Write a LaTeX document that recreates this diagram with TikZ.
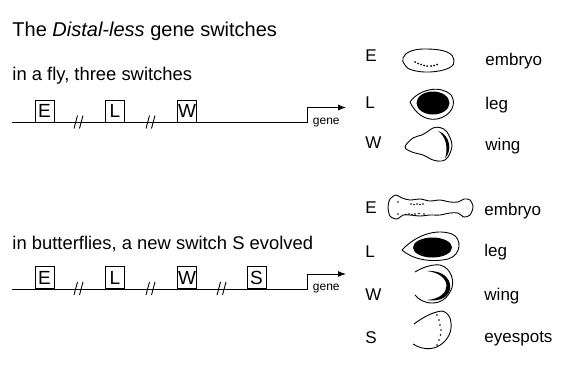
\documentclass[tikz,border=0pt]{standalone}
\usepackage{fontspec}
\setmainfont{Liberation Sans}
\usetikzlibrary{arrows.meta}

\tikzset{
  txt/.style={anchor=base west, inner sep=0pt},
  switchbox/.style={draw, fill=white, anchor=south, minimum width=19pt,
    minimum height=22pt, inner sep=0pt, font=\fontsize{19}{19}\selectfont},
  tissue/.style={anchor=base west, inner sep=0pt, font=\fontsize{17}{20}\selectfont},
  genetag/.style={anchor=base west, inner sep=0pt, font=\fontsize{12}{12}\selectfont},
}

\begin{document}
\begin{tikzpicture}[x=1pt, y=-1pt, line width=0.9pt]
    \useasboundingbox (0,0) rectangle (570,365);

    % Headings
    \node[txt, font=\fontsize{20}{24}\selectfont] (title) at (12,36.7)
      {The \textit{Distal-less} gene switches};
    \node[txt, font=\fontsize{18.4}{22}\selectfont] (fly) at (12,80.5)
      {in a fly, three switches};
    \node[txt, font=\fontsize{18.4}{22}\selectfont] (bfly) at (12,249)
      {in butterflies, a new switch S evolved};

    % Fly: DNA line with promoter arrow
    \coordinate (start1) at (12,122.5);
    \coordinate (tss1) at (307,122.5);
    \coordinate (tip1) at (346,107.5);
    \draw[-{Latex[length=8pt,width=6pt]}] (start1) -- (tss1) |- (tip1);
    \node[genetag] (gene1) at (312.5,124) {gene};

    % Fly: breaks in the line
    \foreach \x in {78.5,150.5} {
      \draw (\x-4.5,128.5) -- (\x-1,115.5);
      \draw (\x+1,128.5) -- (\x+4.5,115.5);
    }

    % Fly: switches
    \node[switchbox] (E1) at (44.5,122.5) {E};
    \node[switchbox] (L1) at (115,122.5) {L};
    \node[switchbox] (W1) at (187,122.5) {W};

    % Butterfly: DNA line with promoter arrow
    \coordinate (start2) at (12,289);
    \coordinate (tss2) at (307,289);
    \coordinate (tip2) at (346,274);
    \draw[-{Latex[length=8pt,width=6pt]}] (start2) -- (tss2) |- (tip2);
    \node[genetag] (gene2) at (312.5,290.5) {gene};

    % Butterfly: breaks in the line
    \foreach \x in {78.5,150.5,221.5} {
      \draw (\x-4.5,295) -- (\x-1,282);
      \draw (\x+1,295) -- (\x+4.5,282);
    }

    % Butterfly: switches
    \node[switchbox] (E2) at (44.5,289) {E};
    \node[switchbox] (L2) at (115,289) {L};
    \node[switchbox] (W2) at (187,289) {W};
    \node[switchbox] (S2) at (256.5,289) {S};

    % Fly: where each switch is on
    \node[tissue] (fE) at (365,61) {E};
    \node[tissue] (fL) at (365,108) {L};
    \node[tissue] (fW) at (365,148) {W};
    \node[tissue] (fEt) at (485,65) {embryo};
    \node[tissue] (fLt) at (485,109) {leg};
    \node[tissue] (fWt) at (485,150) {wing};

    % fly embryo
    \draw plot[smooth cycle, tension=0.7] coordinates
      {(403,58) (411,51) (428,49) (447,52) (454,60) (449,68) (430,72) (412,70) (405,65)};
    \foreach \p in {(415,62),(418,63.5),(421,64.5),(424,65.5),(427,66),(431,66),(434,65.5),(437,64.5)}
      \fill \p circle (1);

    % fly leg disc
    \draw (410,102) .. controls (418,90) and (440,84) .. (451,95)
      .. controls (457,103) and (452,116) .. (437,119)
      .. controls (425,121) and (415,113) .. (410,102);
    \fill (433,103) ellipse [x radius=16.5, y radius=11.5];

    % fly wing disc
    \draw plot[smooth cycle, tension=0.6] coordinates
      {(405,147) (413,138) (422,135) (427,132) (433,128) (440,127.5) (447,132)
       (452,145) (448,157) (442,161) (433,160) (423,155) (412,152)};
    \fill (438,131) .. controls (451,135) and (452,152) .. (445,158)
      .. controls (448,150) and (447,137) .. cycle;

    % Butterfly: where each switch is on
    \node[tissue] (bE) at (365,213) {E};
    \node[tissue] (bL) at (365,257) {L};
    \node[tissue] (bW) at (365,300) {W};
    \node[tissue] (bS) at (365,343) {S};
    \node[tissue] (bEt) at (484,215) {embryo};
    \node[tissue] (bLt) at (484,256) {leg};
    \node[tissue] (bWt) at (484,300) {wing};
    \node[tissue] (bSt) at (484,342) {eyespots};

    % butterfly embryo
    \draw plot[smooth cycle, tension=0.5] coordinates
      {(388,207) (390,199) (396,195) (402,198) (410,200) (420,199) (430,201) (440,200)
       (450,202) (458,202) (464,199) (470,200) (473,207) (470,215) (464,217) (458,213)
       (450,213) (440,215) (430,215) (420,216) (410,215) (403,215) (397,219) (390,216)};
    \foreach \p in {(398,202),(398,214),(411,204),(414,204.5),(417,204),(420,204.5),(423,204),
                    (406,214.5),(409,214),(412,214.5),(415,214),(419,213.5),(424,214)}
      \fill \p circle (0.9);

    % butterfly leg disc
    \draw (402,250) .. controls (415,236) and (435,228) .. (452,234)
      .. controls (462,238) and (462,255) .. (448,259)
      .. controls (430,263) and (412,259) .. (402,250);
    \fill (432.5,247.5) ellipse [x radius=19.5, y radius=10];

    % butterfly wing disc
    \draw (415,272) .. controls (423,267) and (433,264) .. (440,265)
      .. controls (452,268) and (455,283) .. (451,290)
      .. controls (447,299) and (440,303) .. (432,303)
      .. controls (424,303) and (418,299) .. (415,295);
    \fill (427,271) .. controls (458,269) and (458,305) .. (427,300)
      .. controls (453,298) and (453,274) .. cycle;

    % butterfly eyespot wing disc
    \draw (414,324) .. controls (422,318) and (432,312) .. (442,311)
      .. controls (446,312) and (448,314) .. (450,318)
      .. controls (453,328) and (450,336) .. (444,342)
      .. controls (436,350) and (424,351) .. (413,344);
    \foreach \p in {(437,315),(439,320),(440,325),(441,330),(440.5,335),(439,340),(437,345)}
      \fill \p circle (0.8);
\end{tikzpicture}
\end{document}
